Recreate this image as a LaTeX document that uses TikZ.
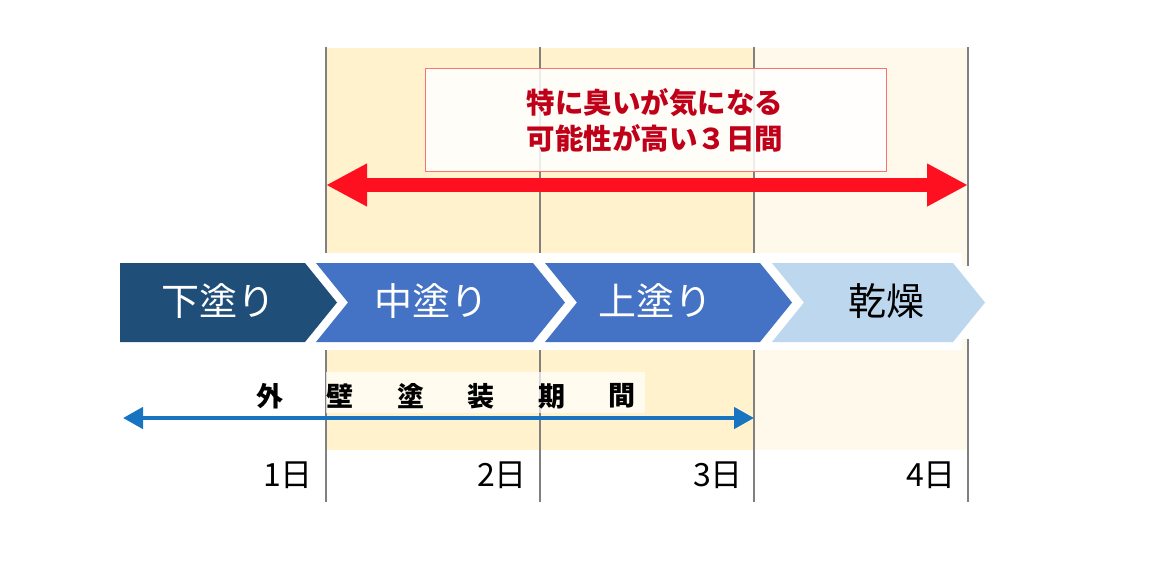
\documentclass[tikz,border=0pt]{standalone}
\usepackage{fontspec}
\newfontfamily\jp{Noto Sans CJK JP}
\usetikzlibrary{arrows.meta}
\definecolor{navy}{HTML}{1F4E79}
\definecolor{midblue}{HTML}{4472C4}
\definecolor{lightblue}{HTML}{BDD7EE}
\definecolor{shadeA}{HTML}{FFF2CC}
\definecolor{shadeB}{HTML}{FFF9EC}
\definecolor{bigred}{HTML}{FF1020}
\definecolor{darkred}{HTML}{C00018}
\definecolor{boxred}{HTML}{FF7070}
\definecolor{arrowblue}{HTML}{1874C0}
\definecolor{gridgray}{HTML}{808080}
\begin{document}
\begin{tikzpicture}[x=1pt,y=-1pt,
  gridline/.style={draw=gridgray,line width=1.3pt},
  stagelabel/.style={font=\jp\fontsize{38}{38}\selectfont,text=white,inner sep=0pt},
  daylabel/.style={font=\jp\fontsize{32}{32}\selectfont,anchor=east,inner sep=0pt},
  periodchar/.style={font=\jp\bfseries\fontsize{27}{27}\selectfont,inner sep=0pt},
  redbox/.style={draw=boxred,line width=0.8pt,fill=white,fill opacity=0.85,minimum width=461pt,minimum height=103pt,inner sep=0pt},
  redarrow/.style={draw=bigred,line width=14pt,{Triangle[length=41pt,width=40pt]}-{Triangle[length=41pt,width=40pt]}},
  bluearrow/.style={draw=arrowblue,line width=4.5pt,{Triangle[length=20pt,width=21pt]}-{Triangle[length=20pt,width=21pt]}}]
\useasboundingbox (0,0) rectangle (1172,566);
% background columns
\fill[shadeA] (326,48) rectangle (754,450);
\fill[shadeB] (754,48) rectangle (968,450);
% day lines
\foreach \x in {326,540,754,968}{\draw[gridline] (\x,47) -- (\x,502);}
% white band behind the stages
\fill[white] (300,253) rectangle (962,350);
\fill[white] (962,266) rectangle (972,339);
% stage chevrons
\fill[navy] (120,263) -- (305,263) -- (337,302.5) -- (305,342) -- (120,342) -- cycle;
\fill[midblue] (316,263) -- (533,263) -- (565,302.5) -- (533,342) -- (316,342) -- (348,302.5) -- cycle;
\fill[midblue] (545,263) -- (760,263) -- (792,302.5) -- (760,342) -- (545,342) -- (577,302.5) -- cycle;
\fill[lightblue] (772,263) -- (953,263) -- (985,302.5) -- (953,342) -- (772,342) -- (804,302.5) -- cycle;
\node[stagelabel] (s1) at (218,301) {下塗り};
\node[stagelabel] (s2) at (431,301) {中塗り};
\node[stagelabel] (s3) at (655,301) {上塗り};
\node[stagelabel,text=black] (s4) at (886,301) {乾燥};
% red highlight box
\node[redbox] (rbox) at (655.5,119.5) {};
\node[font=\jp\bfseries\fontsize{28.5}{36}\selectfont,text=darkred,align=center,inner sep=0pt] (rtext) at (655,120) {特に臭いが気になる\\可能性が高い３日間};
% red arrow
\coordinate (rl) at (326,185);
\coordinate (rr) at (968,185);
\draw[redarrow] (rl) -- (rr);
% period label background
\fill[white,opacity=0.7] (326,372) rectangle (645,413);
\foreach \c/\x [count=\i] in {外/270,壁/340,塗/411,装/481,期/552,間/622}{
  \node[periodchar] (p\i) at (\x,396) {\c};
}
% blue arrow
\coordinate (bl) at (123,418);
\coordinate (br) at (754,418);
\draw[bluearrow] (bl) -- (br);
% day labels
\node[daylabel] (d1) at (313,475) {1日};
\node[daylabel] (d2) at (527,475) {2日};
\node[daylabel] (d3) at (743,475) {3日};
\node[daylabel] (d4) at (956,475) {4日};
\end{tikzpicture}
\end{document}
